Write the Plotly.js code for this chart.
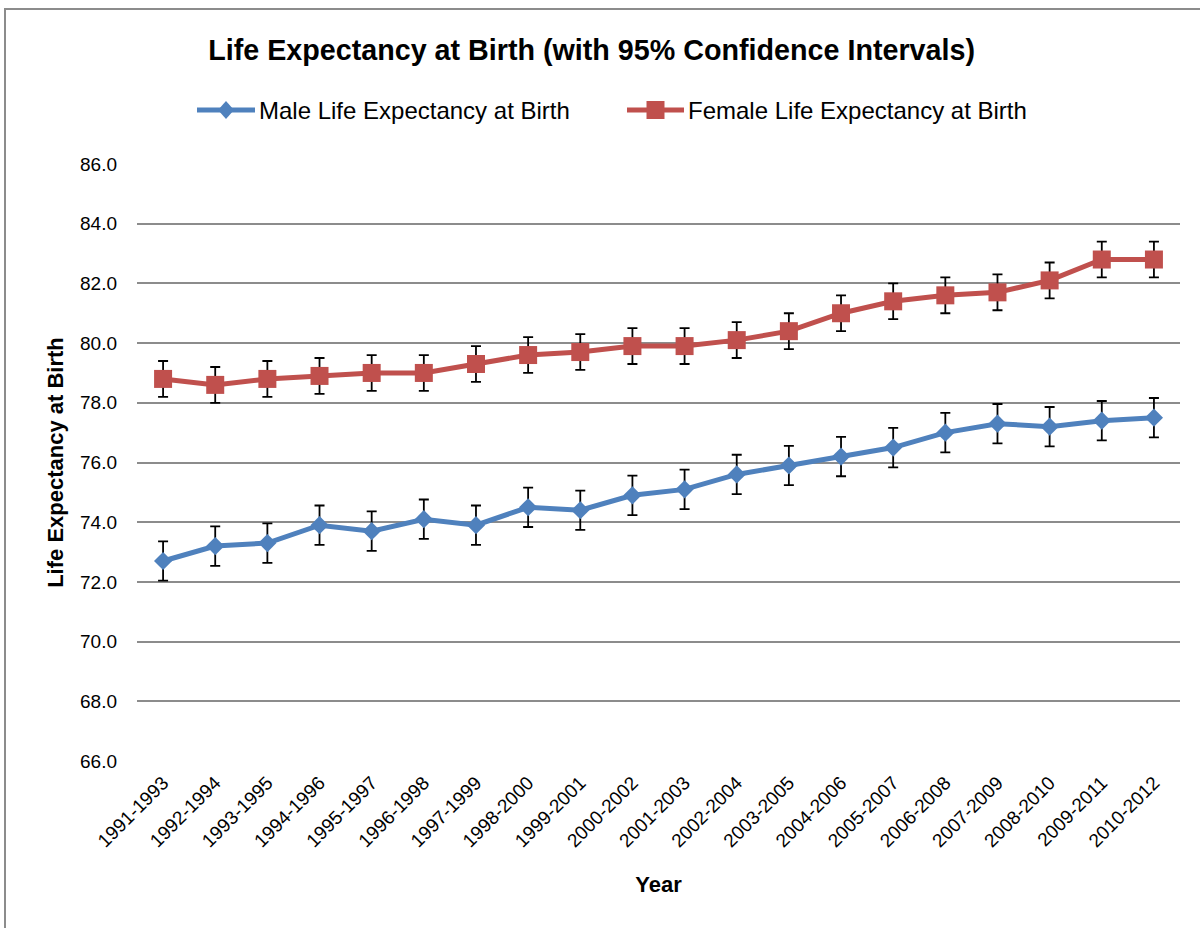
<!DOCTYPE html>
<html>
<head>
<meta charset="utf-8">
<script src="https://cdn.plot.ly/plotly-3.0.1.min.js"></script>
<style>
html,body{margin:0;padding:0;background:#fff;}
#frame{position:absolute;left:4px;top:8px;width:1200px;height:930px;border-left:2px solid #8c8c8c;border-top:2px solid #8c8c8c;pointer-events:none;z-index:5;}
#chart{position:absolute;left:0;top:0;width:1200px;height:928px;}
</style>
</head>
<body>
<div id="chart"></div>
<div id="frame"></div>
<script>
const categories = ["1991-1993","1992-1994","1993-1995","1994-1996","1995-1997","1996-1998","1997-1999","1998-2000","1999-2001","2000-2002","2001-2003","2002-2004","2003-2005","2004-2006","2005-2007","2006-2008","2007-2009","2008-2010","2009-2011","2010-2012"];
const maleLE = [72.7,73.2,73.3,73.9,73.7,74.1,73.9,74.5,74.4,74.9,75.1,75.6,75.9,76.2,76.5,77.0,77.3,77.2,77.4,77.5];
const maleCI = [0.66,0.66,0.66,0.66,0.66,0.66,0.66,0.66,0.66,0.66,0.66,0.66,0.66,0.66,0.66,0.66,0.66,0.66,0.66,0.66];
const femaleLE = [78.8,78.6,78.8,78.9,79.0,79.0,79.3,79.6,79.7,79.9,79.9,80.1,80.4,81.0,81.4,81.6,81.7,82.1,82.8,82.8];
const femaleCI = [0.6,0.6,0.6,0.6,0.6,0.6,0.6,0.6,0.6,0.6,0.6,0.6,0.6,0.6,0.6,0.6,0.6,0.6,0.6,0.6];
const yTicks = [66,68,70,72,74,76,78,80,82,84,86];
const yTickText = yTicks.map(v => v.toFixed(1));
const seriesNames = ["Male Life Expectancy at Birth", "Female Life Expectancy at Birth"];
const MALE_COLOR = "#4F81BD", FEMALE_COLOR = "#C0504D";

const FONT = "Liberation Sans, Arial, sans-serif";
const W = 1200, H = 928;
const M = {l: 137, r: 20, t: 164, b: 167};
const PW = W - M.l - M.r, PH = H - M.t - M.b;
const px = x => (x - M.l) / PW;
const py = y => (H - M.b - y) / PH;

const traces = [
  {
    type: "scatter", mode: "lines+markers",
    name: seriesNames[0],
    x: categories, y: maleLE,
    line: {color: MALE_COLOR, width: 5},
    marker: {symbol: "diamond", size: 14, color: MALE_COLOR},
    error_y: {type: "data", array: maleCI, visible: true, color: "#000", thickness: 1.8, width: 5}
  },
  {
    type: "scatter", mode: "lines+markers",
    name: seriesNames[1],
    x: categories, y: femaleLE,
    line: {color: FEMALE_COLOR, width: 5},
    marker: {symbol: "square", size: 18, color: FEMALE_COLOR},
    error_y: {type: "data", array: femaleCI, visible: true, color: "#000", thickness: 1.8, width: 5}
  }
];

// manual legend
const LY = 110;
function legendEntry(x0, x1, color, kind) {
  const cx = (x0 + x1) / 2;
  const shapes = [{
    type: "line", xref: "paper", yref: "paper",
    x0: px(x0), x1: px(x1), y0: py(LY), y1: py(LY),
    line: {color: color, width: 5}
  }];
  if (kind === "diamond") {
    const hw = 8, hh = 9;
    shapes.push({
      type: "path", xref: "paper", yref: "paper",
      path: `M ${px(cx - hw)} ${py(LY)} L ${px(cx)} ${py(LY - hh)} L ${px(cx + hw)} ${py(LY)} L ${px(cx)} ${py(LY + hh)} Z`,
      fillcolor: color, line: {width: 0}
    });
  } else {
    const h = 9;
    shapes.push({
      type: "rect", xref: "paper", yref: "paper",
      x0: px(cx - h), x1: px(cx + h), y0: py(LY + h), y1: py(LY - h),
      fillcolor: color, line: {width: 0}
    });
  }
  return shapes;
}
const legendShapes = [].concat(
  legendEntry(197, 255, MALE_COLOR, "diamond"),
  legendEntry(627, 684, FEMALE_COLOR, "square")
);
const legendAnnotations = [
  {xref: "paper", yref: "paper", x: px(257), y: py(LY), xanchor: "left", yanchor: "middle",
   text: seriesNames[0], showarrow: false, font: {family: FONT, size: 24, color: "#000"}},
  {xref: "paper", yref: "paper", x: px(686), y: py(LY), xanchor: "left", yanchor: "middle",
   text: seriesNames[1], showarrow: false, font: {family: FONT, size: 24, color: "#000"}}
];

const layout = {
  width: W, height: H,
  paper_bgcolor: "#fff", plot_bgcolor: "#fff",
  margin: M,
  font: {family: FONT, color: "#000"},
  title: {
    text: "<b>Life Expectancy at Birth (with 95% Confidence Intervals)</b>",
    font: {family: FONT, size: 28.7, color: "#000"},
    x: 0.493, xref: "container", xanchor: "center", y: 0.946, yanchor: "middle"
  },
  showlegend: false,
  shapes: legendShapes,
  annotations: legendAnnotations,
  xaxis: {
    type: "category",
    range: [-0.5, 19.5],
    showgrid: false, showline: false, zeroline: false,
    ticks: "", tickangle: -45,
    tickfont: {family: FONT, size: 19, color: "#000"},
    ticklabelstandoff: 6,
    title: {text: "<b>Year</b>", font: {family: FONT, size: 22, color: "#000"}, standoff: 26}
  },
  yaxis: {
    range: [66, 86],
    tickvals: yTicks, ticktext: yTickText,
    showgrid: true, gridcolor: "#8c8c8c", gridwidth: 1.5,
    zeroline: false, showline: false, ticks: "",
    tickfont: {family: FONT, size: 19, color: "#000"},
    ticklabelstandoff: 19,
    title: {text: "<b>Life Expectancy at Birth</b>", font: {family: FONT, size: 22, color: "#000"}, standoff: 10}
  }
};

Plotly.newPlot("chart", traces, layout, {displayModeBar: false, responsive: false});
</script>
</body>
</html>
